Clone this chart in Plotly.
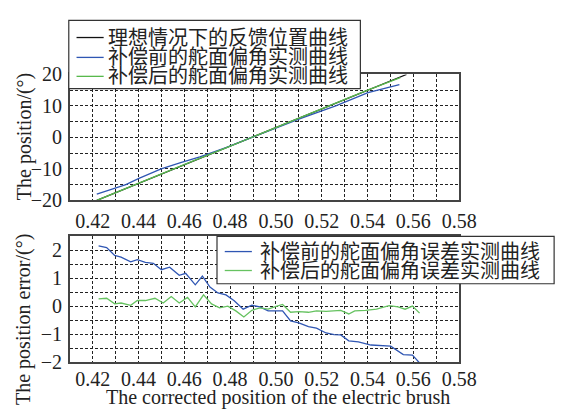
import plotly.graph_objects as go

# ---------------- data ----------------
ideal_x = [0.4218, 0.557]
ideal_y = [-20.0, 20.0]

before_x = [0.4218, 0.4345, 0.4402, 0.4499, 0.4584, 0.4668, 0.4782, 0.4895,
            0.4993, 0.5106, 0.5261, 0.5402, 0.5539]
before_y = [-18.0, -15.0, -13.0, -10.0, -8.0, -6.2, -3.2, 0.0,
            3.0, 6.0, 10.0, 14.2, 16.8]

after_x = [0.4218, 0.435, 0.45, 0.465, 0.4782, 0.49, 0.50, 0.51, 0.52,
           0.53, 0.54, 0.5543]
after_y = [-20.0, -16.0, -11.5, -7.1, -3.3, 0.2, 3.1, 6.0, 9.0,
           12.0, 15.0, 19.0]

err_before_x = [0.4226, 0.4261, 0.4296, 0.4324, 0.4366, 0.4395, 0.4430, 0.4465,
                0.4500, 0.4536, 0.4578, 0.4606, 0.4648, 0.4679, 0.4712, 0.4747,
                0.4782, 0.4818, 0.4857, 0.4895, 0.4930, 0.4966, 0.5029, 0.5064,
                0.5100, 0.5142, 0.5177, 0.5219, 0.5254, 0.5283, 0.5318, 0.5360,
                0.5415, 0.5486, 0.5501, 0.5556, 0.5596, 0.5627]
err_before_y = [2.16, 2.10, 1.82, 1.76, 1.59, 1.67, 1.57, 1.54,
                1.31, 1.40, 1.11, 1.18, 0.77, 1.08, 0.69, 0.48,
                0.41, 0.20, -0.10, 0.04, -0.02, -0.16, -0.16, -0.52,
                -0.59, -0.72, -0.78, -0.95, -1.01, -1.02, -1.23, -1.27,
                -1.38, -1.40, -1.42, -1.72, -1.74, -2.02]

err_after_x = [0.4226, 0.4261, 0.4296, 0.4324, 0.4366, 0.4395, 0.4430, 0.4472,
               0.4508, 0.4543, 0.4578, 0.4614, 0.4648, 0.4684, 0.4719, 0.4754,
               0.4790, 0.4825, 0.4860, 0.4895, 0.4930, 0.4966, 0.4994, 0.5029,
               0.5064, 0.5100, 0.5142, 0.5177, 0.5219, 0.5254, 0.5283, 0.5318,
               0.5344, 0.5391, 0.5439, 0.5494, 0.5533, 0.5564, 0.5596, 0.5627]
err_after_y = [0.27, 0.29, 0.09, 0.12, 0.04, 0.21, 0.21, 0.29,
               0.12, 0.35, 0.12, 0.32, -0.02, 0.41, 0.09, -0.05,
               0.01, -0.16, -0.38, -0.14, -0.05, -0.10, -0.02, 0.07,
               -0.21, -0.19, -0.21, -0.16, -0.18, -0.16, -0.14, -0.27,
               -0.16, -0.14, -0.10, 0.03, -0.02, -0.10, 0.01, -0.24]

names_top = ["理想情况下的反馈位置曲线", "补偿前的舵面偏角实测曲线", "补偿后的舵面偏角实测曲线"]
names_bot = ["补偿前的舵面偏角误差实测曲线", "补偿后的舵面偏角误差实测曲线"]

x_ticks = [0.42, 0.44, 0.46, 0.48, 0.50, 0.52, 0.54, 0.56, 0.58]
x_title = "The corrected position of the electric brush"
y_title_top = "The position/(°)"
y_title_bot = "The position error/(°)"

# ---------------- style ----------------
BLACK = "#111111"
BLUE = "#2f56b3"
GREEN = "#58b94c"
GREEN2 = "#66c260"
W, H = 576, 416
SERIF = "Liberation Serif, Times New Roman, serif"
CJK = "Liberation Serif, Noto Sans CJK SC, serif"


def px(x):
    return x / W


def py(y):
    return 1 - y / H


fig = go.Figure()
fig.add_trace(go.Scatter(x=ideal_x, y=ideal_y, mode="lines", line=dict(color=BLACK, width=1.2),
                         xaxis="x", yaxis="y", showlegend=False))
fig.add_trace(go.Scatter(x=before_x, y=before_y, mode="lines", line=dict(color=BLUE, width=1.3),
                         xaxis="x", yaxis="y", showlegend=False))
fig.add_trace(go.Scatter(x=after_x, y=after_y, mode="lines", line=dict(color=GREEN, width=1.3),
                         xaxis="x", yaxis="y", showlegend=False))
fig.add_trace(go.Scatter(x=err_before_x, y=err_before_y, mode="lines", line=dict(color=BLUE, width=1.3),
                         xaxis="x2", yaxis="y2", showlegend=False))
fig.add_trace(go.Scatter(x=err_after_x, y=err_after_y, mode="lines", line=dict(color=GREEN2, width=1.3),
                         xaxis="x2", yaxis="y2", showlegend=False))

grid = dict(gridcolor="#222222", gridwidth=1, griddash="3px,2px")
common = dict(showline=True, mirror=True, linecolor="#444444", linewidth=1.5, zeroline=False,
              ticks="", tickfont=dict(family=SERIF, size=20, color="#222222"), **grid)

xcommon = dict(range=[0.41, 0.58], tickvals=x_ticks, tickformat=".2f",
               minor=dict(dtick=0.01, tick0=0.41, showgrid=True, **grid), **common)

fig.update_layout(
    autosize=True, margin=dict(l=0, r=0, t=0, b=0),
    paper_bgcolor="white", plot_bgcolor="white",
    xaxis=dict(domain=[px(72), px(474)], anchor="y", ticklabelstandoff=2, **xcommon),
    yaxis=dict(domain=[py(200), py(67)], anchor="x", range=[-20, 20], dtick=10,
               ticklabelstandoff=2,
               minor=dict(dtick=5, showgrid=True, **grid), **common),
    xaxis2=dict(domain=[px(72), px(474)], anchor="y2", ticklabelstandoff=-2, **xcommon),
    yaxis2=dict(domain=[py(371), py(238)], anchor="x2", range=[-2, 2.5], dtick=1, tick0=0,
                ticklabelstandoff=2,
                minor=dict(dtick=0.5, tick0=0, showgrid=True, **grid), **common),
)

shapes = []
annotations = []

# axis titles
tfont = dict(family=SERIF, size=20, color="#222")
annotations.append(dict(text=y_title_top, x=px(26), y=py(133), xref="paper", yref="paper",
                        xanchor="center", yanchor="middle",
                        textangle=-90, showarrow=False, font=tfont))
annotations.append(dict(text=y_title_bot, x=px(25), y=py(326), xref="paper", yref="paper",
                        xanchor="center", yanchor="middle",
                        textangle=-90, showarrow=False, font=tfont))
annotations.append(dict(text=x_title, x=px(287), y=py(408), xref="paper", yref="paper",
                        xanchor="center", yanchor="middle", showarrow=False, font=tfont))

# manual legends
def legend(box, rows, line_x0, line_x1, text_x, names, colors):
    x0, y0, x1, y1 = box
    shapes.append(dict(type="rect", xref="paper", yref="paper", x0=px(x0), x1=px(x1),
                       y0=py(y1), y1=py(y0), fillcolor="white", line=dict(color="#333", width=1.2),
                       layer="above"))
    for ry, nm, c in zip(rows, names, colors):
        shapes.append(dict(type="line", xref="paper", yref="paper", x0=px(line_x0), x1=px(line_x1),
                           y0=py(ry), y1=py(ry), line=dict(color=c, width=1.3), layer="above"))
        annotations.append(dict(text=nm, x=px(text_x), y=py(ry), xref="paper", yref="paper",
                                xanchor="left", yanchor="middle", showarrow=False,
                                font=dict(family=CJK, size=20, color="#222")))

legend((71, 10, 372, 82), [28, 49, 69], 79, 107, 109, names_top, [BLACK, BLUE, GREEN])
legend((224, 238, 572, 288), [254, 274], 232, 260, 266, names_bot, [BLUE, GREEN2])

fig.update_layout(shapes=shapes, annotations=annotations)
fig.write_html("out.html",
               default_width="576px; position:fixed; left:0px; top:0px",
               default_height="416px",
               post_script="document.body.style.margin='0';")
